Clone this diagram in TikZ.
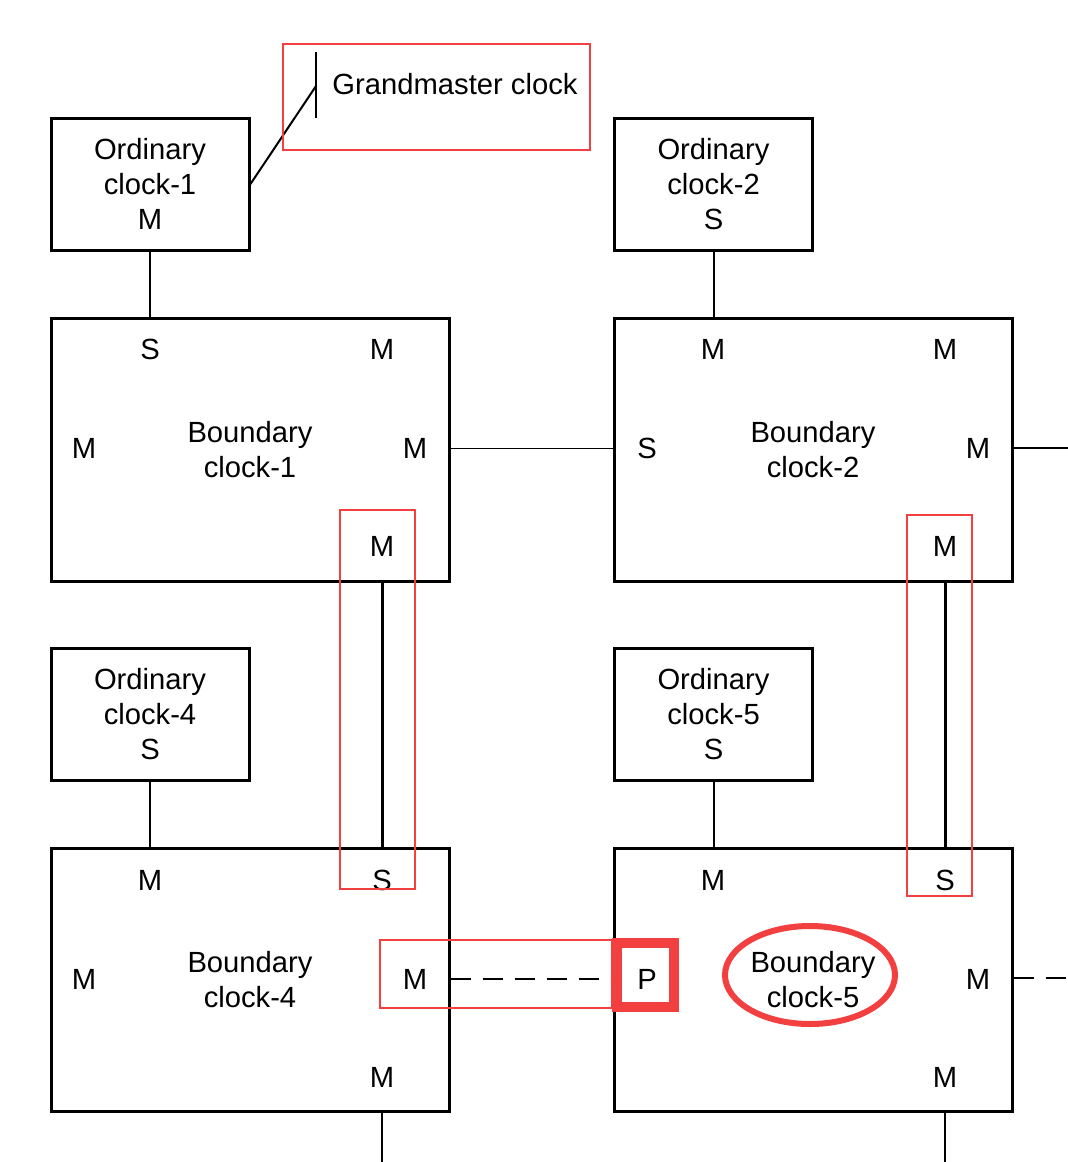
\documentclass[tikz,border=0pt]{standalone}
\usepackage{fontspec}
\setmainfont{Liberation Sans}
\definecolor{hlred}{RGB}{242,64,64}
\newcommand{\ports}[6]{%
  \node[port] (#1tl) at ([shift={(-100,-100)}]#1.center) {#2};
  \node[port] (#1tr) at ([shift={(132,-100)}]#1.center) {#3};
  \node[port] (#1l) at ([shift={(-166,-1)}]#1.center) {#4};
  \node[port] (#1r) at ([shift={(165,-1)}]#1.center) {#5};
  \node[port] (#1br) at ([shift={(132,97)}]#1.center) {#6}; }

\begin{document}
\begin{tikzpicture}[x=0.5pt,y=-0.5pt,
  every node/.style={font=\fontsize{14.6}{17.5}\selectfont},
  ordinary/.style={draw,line width=1.5pt,minimum width=99pt,minimum height=66pt,inner sep=0pt,align=center},
  boundary/.style={draw,line width=1.5pt,minimum width=199pt,minimum height=131.5pt,inner sep=0pt,align=center},
  port/.style={inner sep=0pt},
  link/.style={line width=1pt},
  hl/.style={draw=hlred,line width=0.7pt}]
  \useasboundingbox (0,0) rectangle (1068,1162);
  % clocks
  \node[ordinary] (oc1) at (150,184) {Ordinary\\clock-1\\M};
  \node[ordinary] (oc2) at (713.5,184) {Ordinary\\clock-2\\S};
  \node[ordinary] (oc4) at (150,714) {Ordinary\\clock-4\\S};
  \node[ordinary] (oc5) at (713.5,714) {Ordinary\\clock-5\\S};
  \node[boundary] (bc1) at (250,449.5) {Boundary\\clock-1};
  \node[boundary] (bc2) at (813,449.5) {Boundary\\clock-2};
  \node[boundary] (bc4) at (250,980) {Boundary\\clock-4};
  \node[boundary] (bc5) at (813,980) {Boundary\\clock-5};
  \ports{bc1}{S}{M}{M}{M}{M}
  \ports{bc2}{M}{M}{S}{M}{M}
  \ports{bc4}{M}{S}{M}{M}{M}
  \ports{bc5}{M}{S}{P}{M}{M}
  % grandmaster
  \node (gm) at (455,84) {Grandmaster clock};
  \coordinate (gmtop) at (316,52);
  \coordinate (gmbot) at (316,118);
  \coordinate (gmtap) at (316,86);
  \draw[link] (gmtop) -- (gmbot);
  \draw[link] (oc1.east) -- (gmtap);
  % links
  \draw[link] (oc1.south) -- (oc1.south |- bc1.north);
  \draw[link] (oc2.south) -- (oc2.south |- bc2.north);
  \draw[link] (oc4.south) -- (oc4.south |- bc4.north);
  \draw[link] (oc5.south) -- (oc5.south |- bc5.north);
  \draw[line width=0.8pt] (bc1.east |- bc1r) -- (bc2.west |- bc1r);
  \coordinate (east2) at (1068,448);
  \draw[line width=0.8pt] (bc2.east |- east2) -- (east2);
  \draw[line width=1.5pt] (bc1br |- bc1.south) -- (bc1br |- bc4.north);
  \draw[line width=1.5pt] (bc2br |- bc2.south) -- (bc2br |- bc5.north);
  \draw[line width=0.8pt,dash pattern=on 10pt off 6pt] (bc4.east |- bc4r) -- (bc5.west |- bc4r);
  \coordinate (east5) at (1068,978);
  \draw[line width=0.8pt,dash pattern=on 10pt off 6pt] (bc5.east |- east5) -- (east5);
  \coordinate (down4) at (382,1162);
  \coordinate (down5) at (946,1162);
  \draw[link] (bc4br |- bc4.south) -- (bc4br |- down4);
  \draw[link] (bc5br |- bc5.south) -- (bc5br |- down5);
  % highlights
  \draw[hl] (283,44) rectangle (590,150);
  \draw[hl] (340,510) rectangle (415,889);
  \draw[hl] (907,515) rectangle (972,896);
  \draw[hl] (380,940) rectangle (612,1008);
  \draw[draw=hlred,line width=5pt] (617,943) rectangle (674,1007);
  \draw[draw=hlred,line width=3pt] (810,975) ellipse [x radius=85, y radius=49];
\end{tikzpicture}
\end{document}
